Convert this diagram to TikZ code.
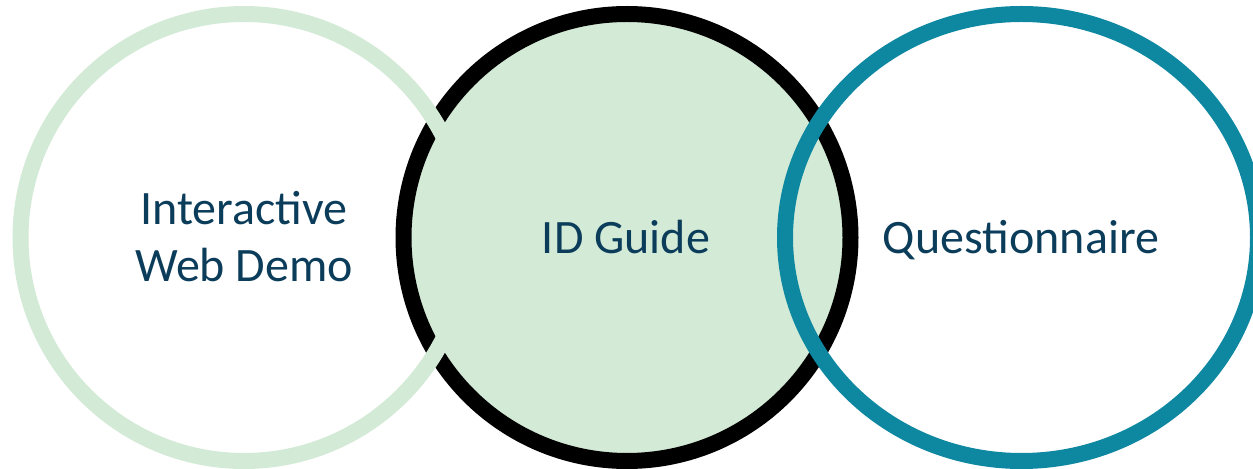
\documentclass[tikz,border=0pt]{standalone}
\usepackage{fontspec}
\setmainfont{Carlito}
\usepackage{xcolor}
\usepackage{tikz}
\definecolor{greenPale}{HTML}{D3EAD6}
\definecolor{tealMain}{HTML}{0E87A1}
\definecolor{navyText}{HTML}{0B3D5B}
\definecolor{inkBlack}{HTML}{000000}

\begin{document}
\begin{tikzpicture}[x=1bp, y=-1bp,
        ringLine/.style={line width=16bp},
        ringLabel/.style={
            font=\fontsize{48bp}{57bp}\selectfont,
            text=navyText,
            align=center,
            inner sep=0pt,
            anchor=base
        }]

            \def\RingRadius{223.5}

            \useasboundingbox (0,0) rectangle (1253,469);

            % middle circle first, the two outer rings lie over its rim
            \draw[ringLine, draw=inkBlack, fill=greenPale] (627,237.5) circle (\RingRadius);
            \draw[ringLine, draw=greenPale] (244,237.5) circle (\RingRadius);
            \draw[ringLine, draw=tealMain] (1021.5,237.5) ellipse (236.5 and \RingRadius);

            \node[ringLabel] (webDemo) at (244,282) {Interactive\\Web Demo};
            \node[ringLabel] (idGuide) at (626,254) {ID Guide};
            \node[ringLabel] (questionnaire) at (1021,254) {Questionnaire};

        \end{tikzpicture}
\end{document}
